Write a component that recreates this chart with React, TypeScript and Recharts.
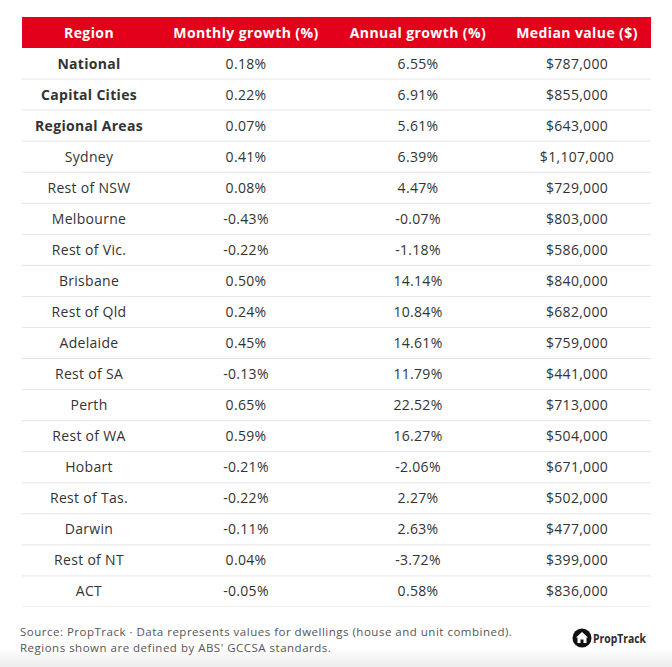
import React from 'react';
import { ComposedChart, Bar, XAxis, YAxis } from 'recharts';

const headers = ['Region', 'Monthly growth (%)', 'Annual growth (%)', 'Median value ($)'];

const regions = [
    'National', 'Capital Cities', 'Regional Areas', 'Sydney', 'Rest of NSW', 'Melbourne',
    'Rest of Vic.', 'Brisbane', 'Rest of Qld', 'Adelaide', 'Rest of SA', 'Perth',
    'Rest of WA', 'Hobart', 'Rest of Tas.', 'Darwin', 'Rest of NT', 'ACT'
];
const boldRegions = ['National', 'Capital Cities', 'Regional Areas'];

const monthlyGrowth = [0.18, 0.22, 0.07, 0.41, 0.08, -0.43, -0.22, 0.50, 0.24, 0.45, -0.13, 0.65, 0.59, -0.21, -0.22, -0.11, 0.04, -0.05];
const annualGrowth = [6.55, 6.91, 5.61, 6.39, 4.47, -0.07, -1.18, 14.14, 10.84, 14.61, 11.79, 22.52, 16.27, -2.06, 2.27, 2.63, -3.72, 0.58];
const medianValue = [787000, 855000, 643000, 1107000, 729000, 803000, 586000, 840000, 682000, 759000, 441000, 713000, 504000, 671000, 502000, 477000, 399000, 836000];

const rows = regions.map((region, i) => ({
    region,
    monthly: monthlyGrowth[i],
    annual: annualGrowth[i],
    median: medianValue[i]
}));

const FONT = '"Open Sans", sans-serif';
const RED = '#e2001a';
const colCenters = [89, 246, 418, 577];
const tableLeft = 22;
const tableRight = 651;
const headerH = 31;
const bodyH = 559;
const rowH = bodyH / rows.length;

const pct = (v: number) => `${v.toFixed(2)}%`;
const money = (v: number) => `$${v.toLocaleString('en-US')}`;

const renderRow = (props: any) => {
    const { y, payload, index } = props;
    const row = rows.find(r => r.region === payload?.value) || rows[index];
    if (!row) return <g />;
    const cells = [row.region, pct(row.monthly), pct(row.annual), money(row.median)];
    const bold = boldRegions.includes(row.region);
    return (
        <g key={row.region}>
            <line x1={tableLeft} x2={tableRight} y1={y + rowH / 2} y2={y + rowH / 2} stroke="#e6e6e6" strokeWidth={1} />
            {cells.map((c, i) => (
                <text
                    key={i}
                    x={colCenters[i]}
                    y={y}
                    dy={5}
                    textAnchor="middle"
                    fill="#333333"
                    fontSize={14}
                    letterSpacing={0.3}
                    fontFamily={FONT}
                    fontWeight={i === 0 && bold ? 700 : 400}
                >
                    {c}
                </text>
            ))}
        </g>
    );
};

const footStyle: React.CSSProperties = {
    position: 'absolute',
    left: 20,
    fontSize: 11.5,
    lineHeight: '16px',
    letterSpacing: 0.5,
    color: '#555555',
    whiteSpace: 'nowrap'
};

const App = () => {
    return (
        <div style={{ position: 'absolute', left: 0, top: 0, width: 672, height: 667, background: '#ffffff', fontFamily: FONT, overflow: 'hidden' }}>
            <div style={{ position: 'absolute', left: 0, top: 648, width: 672, height: 19, background: 'linear-gradient(#ffffff, #ececec)' }} />

            <div style={{ position: 'absolute', left: tableLeft, top: 17, width: tableRight - tableLeft, height: headerH, background: RED }}>
                {headers.map((h, i) => (
                    <div
                        key={h}
                        style={{
                            position: 'absolute',
                            left: colCenters[i] - tableLeft - 100,
                            width: 200,
                            top: 0,
                            lineHeight: `${headerH}px`,
                            textAlign: 'center',
                            color: '#ffffff',
                            fontWeight: 700,
                            fontSize: 14,
                            letterSpacing: 0.4
                        }}
                    >
                        {h}
                    </div>
                ))}
            </div>

            <div style={{ position: 'absolute', left: 0, top: 48 }}>
                <ComposedChart
                    width={672}
                    height={bodyH}
                    data={rows}
                    layout="vertical"
                    margin={{ top: 0, right: 672 - tableRight, bottom: 0, left: tableLeft - 10 }}
                >
                    <XAxis type="number" hide />
                    <YAxis
                        type="category"
                        dataKey="region"
                        width={10}
                        axisLine={false}
                        tickLine={false}
                        interval={0}
                        tick={renderRow}
                    />
                    <Bar dataKey="monthly" fill="transparent" isAnimationActive={false} legendType="none" />
                </ComposedChart>
            </div>

            <div style={{ ...footStyle, top: 624 }}>
                Source: PropTrack · Data represents values for dwellings (house and unit combined).
            </div>
            <div style={{ ...footStyle, top: 640 }}>
                Regions shown are defined by ABS' GCCSA standards.
            </div>

            <svg style={{ position: 'absolute', left: 570, top: 626 }} width={90} height={26}>
                <circle cx={12} cy={12} r={9.5} fill="#111111" />
                <path d="M12 6 L18 11.5 L16.5 11.5 L16.5 17 L7.5 17 L7.5 11.5 L6 11.5 Z" fill="#ffffff" />
                <path d="M10.5 17 L10.5 13.5 L13.5 13.5 L13.5 17 Z" fill="#111111" />
                <text x={23} y={16.5} fontSize={12.5} fontWeight={700} fill="#2a2a2a" fontFamily={FONT} textLength={53} lengthAdjust="spacingAndGlyphs">PropTrack</text>
            </svg>
        </div>
    );
};

export default App;
